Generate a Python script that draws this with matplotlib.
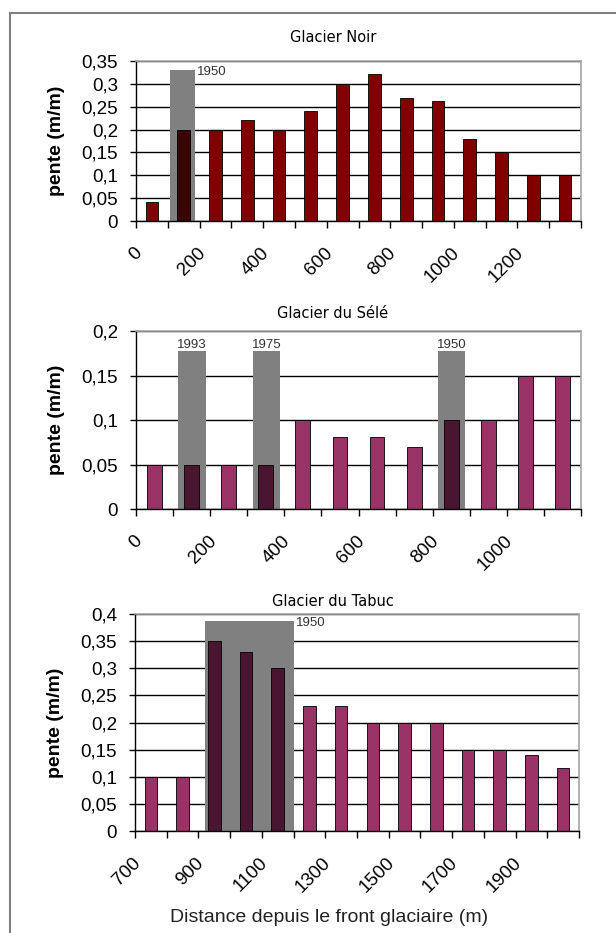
import matplotlib
matplotlib.use("Agg")

import matplotlib.pyplot as plt
import matplotlib.patches as patches
from matplotlib.lines import Line2D
from matplotlib import font_manager

# --- data -------------------------------------------------------------
noir_dist = [0, 100, 200, 300, 400, 500, 600, 700, 800, 900, 1000, 1100, 1200, 1300]
noir_pente = [0.042, 0.2, 0.2, 0.222, 0.2, 0.24, 0.3, 0.322, 0.268, 0.262, 0.18, 0.15, 0.1, 0.1]
noir_shades = [(106, 187, 0.33, "1950")]

sele_dist = [0, 100, 200, 300, 400, 500, 600, 700, 800, 900, 1000, 1100]
sele_pente = [0.05, 0.05, 0.05, 0.05, 0.1, 0.081, 0.081, 0.07, 0.1, 0.1, 0.15, 0.15]
sele_shades = [(114, 189, 0.177, "1993"), (315, 388, 0.177, "1975"), (815, 888, 0.177, "1950")]

tabuc_dist = [700, 800, 900, 1000, 1100, 1200, 1300, 1400, 1500, 1600, 1700, 1800, 1900, 2000]
tabuc_pente = [0.1, 0.1, 0.35, 0.33, 0.3, 0.23, 0.23, 0.2, 0.2, 0.2, 0.15, 0.15, 0.14, 0.117]
tabuc_shades = [(920, 1200, 0.387, "1950")]

names = [f.name for f in font_manager.fontManager.ttflist]
TICK_FONT = "Liberation Sans Narrow" if "Liberation Sans Narrow" in names else "Liberation Sans"
TICK_SIZE = 14 if TICK_FONT == "Liberation Sans Narrow" else 13.5
TITLE_FONT = "DejaVu Sans"

W, H = 616, 933
fig = plt.figure(figsize=(W / 100, H / 100), dpi=100)


def px_axes(left, top, right, bottom):
    return fig.add_axes([left / W, 1 - bottom / H, (right - left) / W, (bottom - top) / H])


def comma(v):
    s = f"{v:g}"
    return s.replace(".", ",")


def panel(ax, dist, pente, shades, color, dark, ymax, title, title_y, label_side):
    step = 100
    x0 = dist[0]
    x1 = dist[-1] + step
    ax.set_xlim(x0, x1)
    ax.set_ylim(0, ymax)

    yt = [round(i * 0.05, 2) for i in range(int(round(ymax / 0.05)) + 1)]
    ax.set_yticks(yt)
    ax.set_yticklabels([comma(v) for v in yt], fontfamily=TICK_FONT, fontsize=TICK_SIZE)
    ax.tick_params(axis="y", direction="out", length=4, width=1, pad=9)

    # tick marks on category boundaries, labels every other boundary
    ax.set_xticks(list(dist) + [x1])
    ax.set_xticklabels([])
    ax.tick_params(axis="x", which="major", direction="out", length=5, width=1)
    lab = dist[::2]
    ax.set_xticks([d + 10 for d in lab], minor=True)
    ax.set_xticklabels([str(d) for d in lab], minor=True)
    ax.tick_params(axis="x", which="minor", length=0, pad=21)
    for t in ax.get_xticklabels(minor=True):
        t.set_rotation(45)
        t.set_ha("right")
        t.set_va("center")
        t.set_rotation_mode("anchor")
        t.set_fontfamily(TICK_FONT)
        t.set_fontsize(TICK_SIZE)

    ax.set_axisbelow(True)
    ax.yaxis.grid(True, color="black", linewidth=1)
    for s in ["top", "right"]:
        ax.spines[s].set_color("#a6a6a6")
        ax.spines[s].set_linewidth(1.2)
    for s in ["left", "bottom"]:
        ax.spines[s].set_color("black")
        ax.spines[s].set_linewidth(1)

    for a, b, h, yr in shades:
        ax.add_patch(patches.Rectangle((a, 0), b - a, h, facecolor="#808080",
                                       edgecolor="none", zorder=1))
        if label_side == "above":
            ax.text((a + b) / 2, h + ymax * 0.005, yr, ha="center", va="bottom",
                    fontsize=9.5, color="#333333", fontfamily=TICK_FONT, zorder=4)
        else:
            ax.text(b + 6, h - ymax * 0.01, yr, ha="left", va="center",
                    fontsize=9.5, color="#333333", fontfamily=TICK_FONT, zorder=4)

    centers = [d + step / 2 for d in dist]
    cols = []
    for c in centers:
        inside = any(a <= c <= b for a, b, _, _ in shades)
        cols.append(dark if inside else color)
    ax.bar(centers, pente, width=step * 0.4, color=cols, edgecolor="black",
           linewidth=0.6, zorder=2)

    ax.set_ylabel("pente (m/m)", fontweight="bold", fontsize=14,
                  fontfamily="Liberation Sans")
    ax.yaxis.set_label_coords(-0.16, 0.5)

    fig.text(333 / W, 1 - title_y / H, title, ha="center", va="center",
             fontsize=10.5, fontfamily=TITLE_FONT, color="#000000")


ax1 = px_axes(136, 61, 581, 221)
panel(ax1, noir_dist, noir_pente, noir_shades, "#800000", "#3a0505", 0.35,
      "Glacier Noir", 37, "right")

ax2 = px_axes(136, 331, 581, 509)
panel(ax2, sele_dist, sele_pente, sele_shades, "#993366", "#4a1530", 0.2,
      "Glacier du Sélé", 313, "above")

ax3 = px_axes(135, 614, 579, 831)
panel(ax3, tabuc_dist, tabuc_pente, tabuc_shades, "#993366", "#4a1530", 0.4,
      "Glacier du Tabuc", 601, "right")

fig.text(329 / W, 1 - 917 / H, "Distance depuis le front glaciaire (m)",
         ha="center", va="center", fontsize=14, fontfamily="Liberation Sans",
         color="#222222")

# outer frame (left and top edges only)
fx, fy = 10 / W, 1 - 13 / H
fig.add_artist(Line2D([fx, fx], [0, fy], transform=fig.transFigure, color="#808080", lw=1.5))
fig.add_artist(Line2D([fx, 1], [fy, fy], transform=fig.transFigure, color="#808080", lw=1.5))

fig.savefig("out.png", dpi=100, facecolor="white")
